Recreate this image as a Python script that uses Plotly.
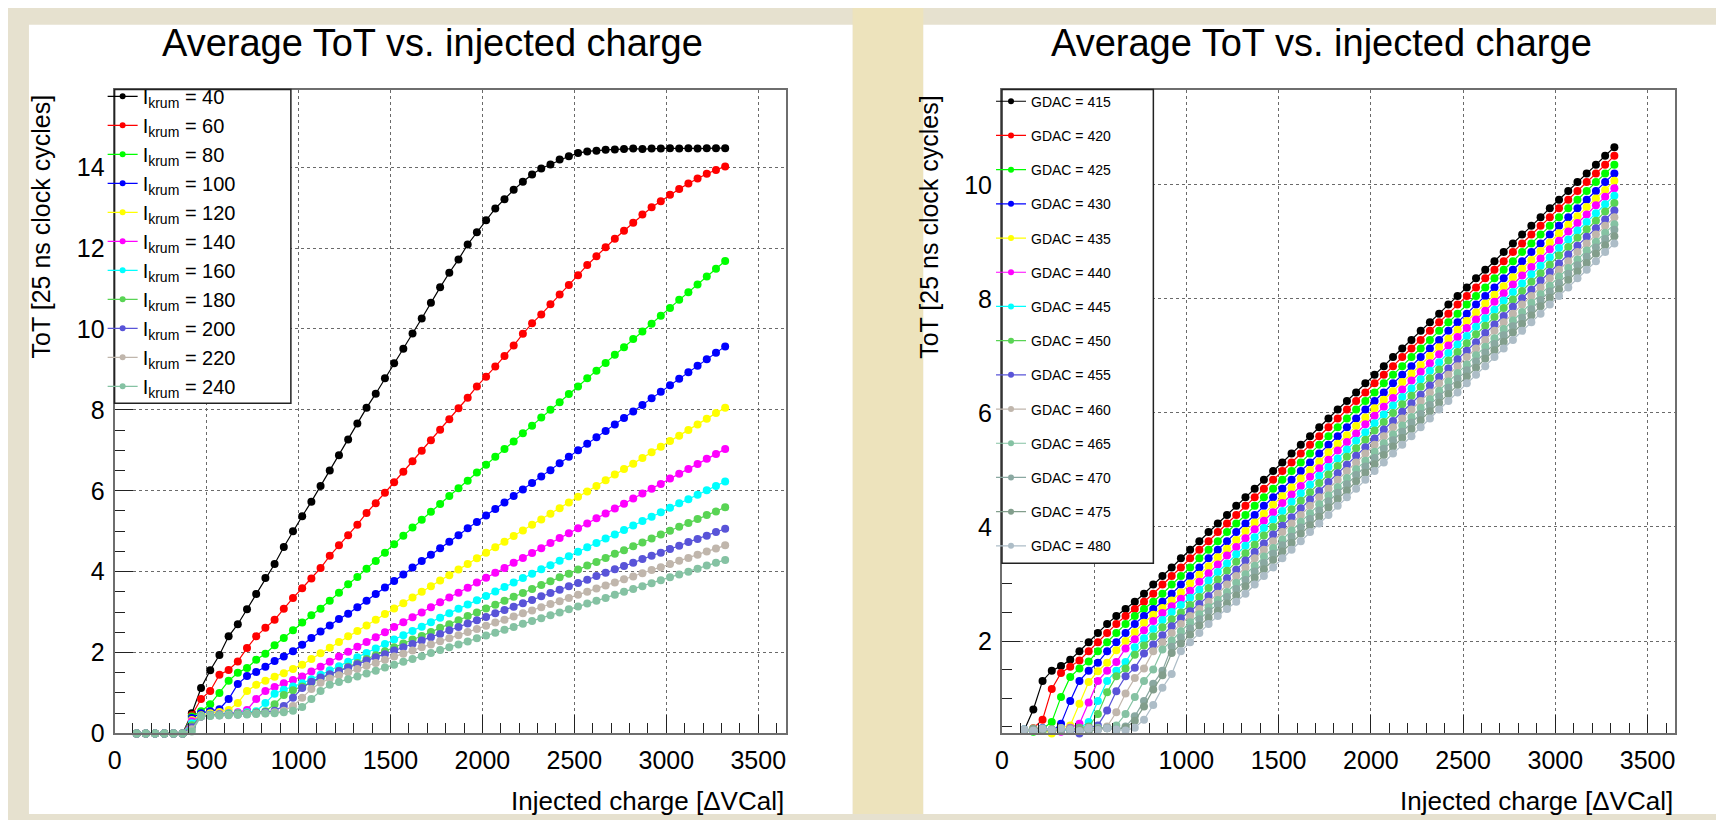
import plotly.graph_objects as go

# ---------------- data ----------------
vcal = [120, 170, 220, 270, 320, 370, 420, 470, 520, 570, 620, 670, 720, 770, 820, 870,
        920, 970, 1020, 1070, 1120, 1170, 1220, 1270, 1320, 1370, 1420, 1470, 1520, 1570,
        1620, 1670, 1720, 1770, 1820, 1870, 1920, 1970, 2020, 2070, 2120, 2170, 2220, 2270,
        2320, 2370, 2420, 2470, 2520, 2570, 2620, 2670, 2720, 2770, 2820, 2870, 2920, 2970,
        3020, 3070, 3120, 3170, 3220, 3270, 3320]

ikrum_values = [40, 60, 80, 100, 120, 140, 160, 180, 200, 220, 240]

tot_ikrum_40 = [0, 0, 0, 0, 0, 0, 0.50, 1.12, 1.56, 1.94, 2.40, 2.70, 3.07, 3.45, 3.84, 4.19, 4.61, 5.00, 5.37, 5.73, 6.12, 6.50, 6.88, 7.27, 7.66, 8.05, 8.40, 8.78, 9.15, 9.51, 9.89, 10.26, 10.65, 11.03, 11.39, 11.72, 12.09, 12.39, 12.69, 12.98, 13.21, 13.44, 13.64, 13.82, 13.97, 14.07, 14.19, 14.27, 14.35, 14.39, 14.41, 14.43, 14.44, 14.45, 14.46, 14.45, 14.46, 14.46, 14.47, 14.46, 14.47, 14.46, 14.47, 14.47, 14.47]
tot_ikrum_60 = [0, 0, 0, 0, 0, 0, 0.45, 0.85, 1.05, 1.45, 1.57, 1.78, 2.11, 2.40, 2.61, 2.81, 3.08, 3.35, 3.59, 3.83, 4.09, 4.39, 4.65, 4.90, 5.16, 5.45, 5.69, 5.95, 6.21, 6.47, 6.73, 6.99, 7.25, 7.51, 7.77, 8.04, 8.30, 8.58, 8.82, 9.07, 9.33, 9.59, 9.88, 10.14, 10.36, 10.61, 10.85, 11.09, 11.33, 11.58, 11.80, 12.02, 12.23, 12.43, 12.63, 12.83, 13.01, 13.16, 13.32, 13.46, 13.60, 13.72, 13.84, 13.93, 14.02]
tot_ikrum_80 = [0, 0, 0, 0, 0, 0, 0.42, 0.55, 0.72, 1.00, 1.30, 1.50, 1.62, 1.82, 1.97, 2.18, 2.36, 2.55, 2.74, 2.92, 3.08, 3.28, 3.48, 3.69, 3.87, 4.07, 4.26, 4.47, 4.68, 4.89, 5.09, 5.28, 5.48, 5.67, 5.87, 6.06, 6.25, 6.45, 6.64, 6.84, 7.03, 7.22, 7.42, 7.61, 7.81, 8.00, 8.19, 8.39, 8.58, 8.78, 8.97, 9.16, 9.36, 9.55, 9.75, 9.94, 10.13, 10.33, 10.52, 10.72, 10.91, 11.10, 11.30, 11.49, 11.68]
tot_ikrum_100 = [0, 0, 0, 0, 0, 0, 0.38, 0.50, 0.55, 0.60, 0.85, 1.22, 1.42, 1.52, 1.65, 1.79, 1.90, 2.03, 2.19, 2.36, 2.52, 2.67, 2.83, 2.96, 3.12, 3.28, 3.45, 3.61, 3.77, 3.93, 4.10, 4.26, 4.42, 4.58, 4.74, 4.90, 5.07, 5.23, 5.39, 5.55, 5.71, 5.87, 6.03, 6.19, 6.35, 6.51, 6.68, 6.84, 7.00, 7.16, 7.32, 7.48, 7.64, 7.80, 7.96, 8.12, 8.29, 8.45, 8.61, 8.77, 8.93, 9.09, 9.25, 9.41, 9.57]
tot_ikrum_120 = [0, 0, 0, 0, 0, 0, 0.33, 0.45, 0.50, 0.53, 0.58, 0.75, 1.05, 1.20, 1.30, 1.40, 1.49, 1.59, 1.70, 1.84, 1.98, 2.12, 2.26, 2.40, 2.53, 2.67, 2.81, 2.95, 3.09, 3.22, 3.36, 3.50, 3.64, 3.78, 3.91, 4.05, 4.19, 4.33, 4.47, 4.60, 4.74, 4.88, 5.02, 5.16, 5.29, 5.43, 5.57, 5.71, 5.85, 5.98, 6.12, 6.26, 6.40, 6.54, 6.67, 6.81, 6.95, 7.09, 7.23, 7.36, 7.50, 7.64, 7.78, 7.92, 8.05]
tot_ikrum_140 = [0, 0, 0, 0, 0, 0, 0.30, 0.42, 0.46, 0.48, 0.50, 0.52, 0.58, 0.85, 1.05, 1.15, 1.24, 1.32, 1.41, 1.53, 1.65, 1.77, 1.90, 2.02, 2.14, 2.26, 2.38, 2.50, 2.63, 2.75, 2.87, 2.99, 3.12, 3.24, 3.36, 3.48, 3.60, 3.73, 3.85, 3.97, 4.09, 4.22, 4.34, 4.46, 4.58, 4.71, 4.83, 4.95, 5.07, 5.19, 5.32, 5.44, 5.56, 5.68, 5.81, 5.93, 6.05, 6.17, 6.30, 6.42, 6.54, 6.66, 6.79, 6.91, 7.03]
tot_ikrum_160 = [0, 0, 0, 0, 0, 0, 0.25, 0.43, 0.46, 0.47, 0.49, 0.50, 0.52, 0.55, 0.75, 0.98, 1.08, 1.16, 1.24, 1.34, 1.45, 1.56, 1.66, 1.77, 1.88, 1.99, 2.10, 2.21, 2.32, 2.43, 2.53, 2.64, 2.75, 2.86, 2.97, 3.08, 3.19, 3.29, 3.40, 3.51, 3.62, 3.73, 3.84, 3.95, 4.06, 4.16, 4.27, 4.38, 4.49, 4.60, 4.71, 4.82, 4.92, 5.03, 5.14, 5.25, 5.36, 5.47, 5.58, 5.69, 5.79, 5.90, 6.01, 6.12, 6.23]
tot_ikrum_180 = [0, 0, 0, 0, 0, 0, 0.20, 0.42, 0.45, 0.46, 0.48, 0.49, 0.50, 0.52, 0.55, 0.72, 0.95, 1.07, 1.16, 1.26, 1.36, 1.45, 1.55, 1.65, 1.74, 1.84, 1.93, 2.03, 2.13, 2.22, 2.32, 2.41, 2.51, 2.61, 2.70, 2.80, 2.90, 2.99, 3.09, 3.18, 3.28, 3.38, 3.47, 3.57, 3.67, 3.76, 3.86, 3.95, 4.05, 4.15, 4.24, 4.34, 4.44, 4.53, 4.63, 4.72, 4.82, 4.92, 5.01, 5.11, 5.20, 5.30, 5.40, 5.49, 5.59]
tot_ikrum_200 = [0, 0, 0, 0, 0, 0, 0.15, 0.42, 0.44, 0.45, 0.46, 0.47, 0.48, 0.50, 0.52, 0.56, 0.68, 0.88, 1.12, 1.28, 1.38, 1.46, 1.54, 1.63, 1.71, 1.80, 1.88, 1.96, 2.05, 2.13, 2.21, 2.30, 2.38, 2.46, 2.55, 2.63, 2.72, 2.80, 2.88, 2.97, 3.05, 3.13, 3.22, 3.30, 3.39, 3.47, 3.55, 3.64, 3.72, 3.80, 3.89, 3.97, 4.06, 4.14, 4.22, 4.31, 4.39, 4.47, 4.56, 4.64, 4.73, 4.81, 4.89, 4.98, 5.06]
tot_ikrum_220 = [0, 0, 0, 0, 0, 0, 0.10, 0.42, 0.44, 0.45, 0.46, 0.47, 0.48, 0.49, 0.50, 0.52, 0.56, 0.68, 0.88, 1.10, 1.25, 1.36, 1.44, 1.51, 1.59, 1.67, 1.74, 1.82, 1.90, 1.97, 2.05, 2.13, 2.20, 2.28, 2.35, 2.43, 2.51, 2.58, 2.66, 2.74, 2.81, 2.89, 2.97, 3.04, 3.12, 3.20, 3.27, 3.35, 3.43, 3.50, 3.58, 3.66, 3.73, 3.81, 3.88, 3.96, 4.04, 4.11, 4.19, 4.27, 4.34, 4.42, 4.50, 4.57, 4.65]
tot_ikrum_240 = [0, 0, 0, 0, 0, 0, 0.05, 0.42, 0.43, 0.44, 0.45, 0.46, 0.47, 0.48, 0.49, 0.50, 0.52, 0.56, 0.65, 0.85, 1.05, 1.20, 1.27, 1.34, 1.41, 1.48, 1.55, 1.63, 1.70, 1.77, 1.84, 1.91, 1.99, 2.06, 2.13, 2.20, 2.27, 2.35, 2.42, 2.49, 2.56, 2.63, 2.71, 2.78, 2.85, 2.92, 2.99, 3.07, 3.14, 3.21, 3.28, 3.35, 3.43, 3.50, 3.57, 3.64, 3.71, 3.79, 3.86, 3.93, 4.00, 4.07, 4.15, 4.22, 4.29]

gdac_values = [415, 420, 425, 430, 435, 440, 445, 450, 455, 460, 465, 470, 475, 480]

tot_gdac_415 = [0.43, 0.80, 1.30, 1.48, 1.56, 1.67, 1.82, 1.98, 2.14, 2.30, 2.44, 2.56, 2.69, 2.83, 2.99, 3.14, 3.29, 3.45, 3.60, 3.75, 3.91, 4.06, 4.21, 4.37, 4.52, 4.67, 4.83, 4.98, 5.13, 5.29, 5.44, 5.59, 5.75, 5.90, 6.06, 6.21, 6.36, 6.52, 6.67, 6.82, 6.98, 7.13, 7.28, 7.44, 7.59, 7.74, 7.90, 8.05, 8.20, 8.36, 8.51, 8.66, 8.82, 8.97, 9.13, 9.28, 9.43, 9.59, 9.74, 9.89, 10.05, 10.20, 10.35, 10.51, 10.66]
tot_gdac_420 = [0.42, 0.47, 0.62, 1.16, 1.44, 1.55, 1.66, 1.82, 1.98, 2.14, 2.30, 2.44, 2.56, 2.69, 2.83, 2.99, 3.14, 3.29, 3.45, 3.60, 3.75, 3.91, 4.06, 4.21, 4.37, 4.52, 4.67, 4.83, 4.98, 5.13, 5.29, 5.44, 5.59, 5.75, 5.90, 6.06, 6.21, 6.36, 6.52, 6.67, 6.82, 6.98, 7.13, 7.28, 7.44, 7.59, 7.74, 7.90, 8.05, 8.20, 8.36, 8.51, 8.66, 8.82, 8.97, 9.13, 9.28, 9.43, 9.59, 9.74, 9.89, 10.05, 10.20, 10.35, 10.51]
tot_gdac_425 = [0.44, 0.41, 0.46, 0.58, 1.02, 1.37, 1.52, 1.64, 1.82, 1.98, 2.14, 2.30, 2.44, 2.56, 2.69, 2.83, 2.99, 3.14, 3.29, 3.45, 3.60, 3.75, 3.91, 4.06, 4.21, 4.37, 4.52, 4.67, 4.83, 4.98, 5.13, 5.29, 5.44, 5.59, 5.75, 5.90, 6.06, 6.21, 6.36, 6.52, 6.67, 6.82, 6.98, 7.13, 7.28, 7.44, 7.59, 7.74, 7.90, 8.05, 8.20, 8.36, 8.51, 8.66, 8.82, 8.97, 9.13, 9.28, 9.43, 9.59, 9.74, 9.89, 10.05, 10.20, 10.35]
tot_gdac_430 = [0.45, 0.43, 0.47, 0.42, 0.55, 0.95, 1.30, 1.48, 1.62, 1.82, 1.98, 2.14, 2.30, 2.44, 2.56, 2.69, 2.83, 2.99, 3.14, 3.29, 3.45, 3.60, 3.75, 3.91, 4.06, 4.21, 4.37, 4.52, 4.67, 4.83, 4.98, 5.13, 5.29, 5.44, 5.59, 5.75, 5.90, 6.06, 6.21, 6.36, 6.52, 6.67, 6.82, 6.98, 7.13, 7.28, 7.44, 7.59, 7.74, 7.90, 8.05, 8.20, 8.36, 8.51, 8.66, 8.82, 8.97, 9.13, 9.28, 9.43, 9.59, 9.74, 9.89, 10.05, 10.20]
tot_gdac_435 = [0.43, 0.46, 0.44, 0.38, 0.47, 0.52, 0.90, 1.28, 1.47, 1.62, 1.84, 2.00, 2.16, 2.32, 2.46, 2.58, 2.71, 2.85, 3.01, 3.16, 3.31, 3.47, 3.62, 3.77, 3.93, 4.08, 4.23, 4.39, 4.54, 4.69, 4.85, 5.00, 5.15, 5.31, 5.46, 5.61, 5.77, 5.92, 6.08, 6.23, 6.38, 6.54, 6.69, 6.84, 7.00, 7.15, 7.30, 7.46, 7.61, 7.76, 7.92, 8.07, 8.22, 8.38, 8.53, 8.68, 8.84, 8.99, 9.15, 9.30, 9.45, 9.61, 9.76, 9.91, 10.07]
tot_gdac_440 = [0.44, 0.42, 0.46, 0.45, 0.41, 0.48, 0.55, 0.92, 1.30, 1.48, 1.63, 1.87, 2.03, 2.19, 2.35, 2.49, 2.61, 2.74, 2.88, 3.04, 3.19, 3.34, 3.50, 3.65, 3.80, 3.96, 4.11, 4.26, 4.42, 4.57, 4.72, 4.88, 5.03, 5.18, 5.34, 5.49, 5.64, 5.80, 5.95, 6.11, 6.26, 6.41, 6.57, 6.72, 6.87, 7.03, 7.18, 7.33, 7.49, 7.64, 7.79, 7.95, 8.10, 8.25, 8.41, 8.56, 8.71, 8.87, 9.02, 9.18, 9.33, 9.48, 9.64, 9.79, 9.94]
tot_gdac_445 = [0.45, 0.43, 0.47, 0.44, 0.46, 0.42, 0.47, 0.58, 0.95, 1.30, 1.48, 1.63, 1.89, 2.05, 2.21, 2.37, 2.51, 2.63, 2.76, 2.90, 3.06, 3.21, 3.36, 3.52, 3.67, 3.82, 3.98, 4.13, 4.28, 4.44, 4.59, 4.74, 4.90, 5.05, 5.20, 5.36, 5.51, 5.66, 5.82, 5.97, 6.13, 6.28, 6.43, 6.59, 6.74, 6.89, 7.05, 7.20, 7.35, 7.51, 7.66, 7.81, 7.97, 8.12, 8.27, 8.43, 8.58, 8.73, 8.89, 9.04, 9.20, 9.35, 9.50, 9.66, 9.81]
tot_gdac_450 = [0.44, 0.46, 0.42, 0.45, 0.47, 0.43, 0.48, 0.50, 0.72, 1.10, 1.38, 1.52, 1.76, 1.92, 2.08, 2.24, 2.38, 2.50, 2.63, 2.77, 2.93, 3.08, 3.23, 3.39, 3.54, 3.69, 3.85, 4.00, 4.15, 4.31, 4.46, 4.61, 4.77, 4.92, 5.07, 5.23, 5.38, 5.53, 5.69, 5.84, 6.00, 6.15, 6.30, 6.46, 6.61, 6.76, 6.92, 7.07, 7.22, 7.38, 7.53, 7.68, 7.84, 7.99, 8.14, 8.30, 8.45, 8.60, 8.76, 8.91, 9.07, 9.22, 9.37, 9.53, 9.68]
tot_gdac_455 = [0.43, 0.45, 0.47, 0.42, 0.46, 0.44, 0.38, 0.48, 0.52, 0.78, 1.12, 1.38, 1.53, 1.78, 1.94, 2.10, 2.26, 2.40, 2.52, 2.65, 2.79, 2.95, 3.10, 3.25, 3.41, 3.56, 3.71, 3.87, 4.02, 4.17, 4.33, 4.48, 4.63, 4.79, 4.94, 5.09, 5.25, 5.40, 5.55, 5.71, 5.86, 6.02, 6.17, 6.32, 6.48, 6.63, 6.78, 6.94, 7.09, 7.24, 7.40, 7.55, 7.70, 7.86, 8.01, 8.16, 8.32, 8.47, 8.62, 8.78, 8.93, 9.09, 9.24, 9.39, 9.55]
tot_gdac_460 = [0.45, 0.43, 0.46, 0.44, 0.47, 0.42, 0.45, 0.48, 0.46, 0.50, 0.75, 1.08, 1.35, 1.52, 1.82, 1.98, 2.14, 2.30, 2.44, 2.56, 2.69, 2.83, 2.99, 3.14, 3.29, 3.45, 3.60, 3.75, 3.91, 4.06, 4.21, 4.37, 4.52, 4.67, 4.83, 4.98, 5.13, 5.29, 5.44, 5.59, 5.75, 5.90, 6.06, 6.21, 6.36, 6.52, 6.67, 6.82, 6.98, 7.13, 7.28, 7.44, 7.59, 7.74, 7.90, 8.05, 8.20, 8.36, 8.51, 8.66, 8.82, 8.97, 9.13, 9.28, 9.43]
tot_gdac_465 = [0.44, 0.46, 0.43, 0.45, 0.47, 0.44, 0.42, 0.46, 0.48, 0.47, 0.52, 0.72, 1.02, 1.30, 1.50, 1.85, 2.01, 2.17, 2.33, 2.47, 2.59, 2.72, 2.86, 3.02, 3.17, 3.32, 3.48, 3.63, 3.78, 3.94, 4.09, 4.24, 4.40, 4.55, 4.70, 4.86, 5.01, 5.16, 5.32, 5.47, 5.62, 5.78, 5.93, 6.09, 6.24, 6.39, 6.55, 6.70, 6.85, 7.01, 7.16, 7.31, 7.47, 7.62, 7.77, 7.93, 8.08, 8.23, 8.39, 8.54, 8.69, 8.85, 9.00, 9.16, 9.31]
tot_gdac_470 = [0.45, 0.43, 0.46, 0.44, 0.42, 0.47, 0.45, 0.43, 0.46, 0.48, 0.45, 0.50, 0.68, 0.95, 1.25, 1.48, 1.90, 2.06, 2.22, 2.38, 2.52, 2.64, 2.77, 2.91, 3.07, 3.22, 3.37, 3.53, 3.68, 3.83, 3.99, 4.14, 4.29, 4.45, 4.60, 4.75, 4.91, 5.06, 5.21, 5.37, 5.52, 5.67, 5.83, 5.98, 6.14, 6.29, 6.44, 6.60, 6.75, 6.90, 7.06, 7.21, 7.36, 7.52, 7.67, 7.82, 7.98, 8.13, 8.28, 8.44, 8.59, 8.74, 8.90, 9.05, 9.21]
tot_gdac_475 = [0.44, 0.46, 0.45, 0.43, 0.47, 0.44, 0.46, 0.42, 0.45, 0.47, 0.44, 0.48, 0.60, 0.85, 1.15, 1.40, 1.79, 1.95, 2.11, 2.27, 2.41, 2.53, 2.66, 2.80, 2.96, 3.11, 3.26, 3.42, 3.57, 3.72, 3.88, 4.03, 4.18, 4.34, 4.49, 4.64, 4.80, 4.95, 5.10, 5.26, 5.41, 5.56, 5.72, 5.87, 6.03, 6.18, 6.33, 6.49, 6.64, 6.79, 6.95, 7.10, 7.25, 7.41, 7.56, 7.71, 7.87, 8.02, 8.17, 8.33, 8.48, 8.63, 8.79, 8.94, 9.10]
tot_gdac_480 = [0.45, 0.43, 0.46, 0.44, 0.47, 0.45, 0.42, 0.46, 0.44, 0.47, 0.45, 0.43, 0.48, 0.62, 0.88, 1.18, 1.42, 1.82, 1.98, 2.14, 2.30, 2.44, 2.56, 2.69, 2.83, 2.99, 3.14, 3.29, 3.45, 3.60, 3.75, 3.91, 4.06, 4.21, 4.37, 4.52, 4.67, 4.83, 4.98, 5.13, 5.29, 5.44, 5.59, 5.75, 5.90, 6.06, 6.21, 6.36, 6.52, 6.67, 6.82, 6.98, 7.13, 7.28, 7.44, 7.59, 7.74, 7.90, 8.05, 8.20, 8.36, 8.51, 8.66, 8.82, 8.97]

x_ticks = [0, 500, 1000, 1500, 2000, 2500, 3000, 3500]

# ---------------- styles ----------------
W, H = 1724, 820
FONT = "Liberation Sans, Arial, Helvetica, sans-serif"
left_colors = ["#000000", "#ff0000", "#00ff00", "#0000ff", "#ffff00", "#ff00ff",
               "#00ffff", "#59d454", "#5954d8", "#c0b6ac", "#85c2a3"]
right_colors = ["#000000", "#ff0000", "#00ff00", "#0000ff", "#ffff00", "#ff00ff",
                "#00ffff", "#59d454", "#5954d8", "#c0b6ac", "#85c2a3", "#8aa8a1",
                "#829e8c", "#adbdc7"]

left_data = [tot_ikrum_40, tot_ikrum_60, tot_ikrum_80, tot_ikrum_100, tot_ikrum_120,
             tot_ikrum_140, tot_ikrum_160, tot_ikrum_180, tot_ikrum_200, tot_ikrum_220,
             tot_ikrum_240]
right_data = [tot_gdac_415, tot_gdac_420, tot_gdac_425, tot_gdac_430, tot_gdac_435,
              tot_gdac_440, tot_gdac_445, tot_gdac_450, tot_gdac_455, tot_gdac_460,
              tot_gdac_465, tot_gdac_470, tot_gdac_475, tot_gdac_480]


def px(x):
    return x / W


def py(y):
    return 1 - y / H


fig = go.Figure()

for val, ys, col in zip(ikrum_values, left_data, left_colors):
    fig.add_trace(go.Scatter(x=vcal, y=ys, mode="lines+markers", xaxis="x", yaxis="y",
                             line=dict(color=col, width=1.2),
                             marker=dict(color=col, size=8, line=dict(width=0)),
                             cliponaxis=False, showlegend=False, hoverinfo="skip"))
    fig.add_trace(go.Scatter(x=[None], y=[None], mode="lines+markers", xaxis="x", yaxis="y",
                             name="I<sub>krum</sub> = %d" % val, legend="legend",
                             line=dict(color=col, width=1.2),
                             marker=dict(color=col, size=6, line=dict(width=0))))

for val, ys, col in zip(gdac_values, right_data, right_colors):
    fig.add_trace(go.Scatter(x=vcal, y=ys, mode="lines+markers", xaxis="x2", yaxis="y2",
                             line=dict(color=col, width=1.2),
                             marker=dict(color=col, size=8, line=dict(width=0)),
                             cliponaxis=False, showlegend=False, hoverinfo="skip"))
    fig.add_trace(go.Scatter(x=[None], y=[None], mode="lines+markers", xaxis="x2", yaxis="y2",
                             name="GDAC = %d" % val, legend="legend2",
                             legendgroup="G%d" % val,
                             line=dict(color=col, width=1.2),
                             marker=dict(color=col, size=6, line=dict(width=0))))


def xaxis_cfg(dom):
    return dict(domain=dom, range=[0, 3650], tickmode="array", tickvals=x_ticks,
                ticktext=[str(v) for v in x_ticks],
                ticks="inside", ticklen=18, tickwidth=1, tickcolor="#222",
                minor=dict(tickmode="linear", tick0=0, dtick=100, ticks="inside",
                           ticklen=10, tickwidth=1, tickcolor="#222", showgrid=False),
                showgrid=True, gridcolor="#6a6a6a", griddash="dot", gridwidth=1,
                showline=True, linecolor="#6e6e6e", linewidth=2, mirror=True,
                zeroline=False, ticklabelstandoff=4,
                tickfont=dict(family=FONT, size=25, color="black"), fixedrange=True)


def yaxis_cfg(dom, rng, anchor):
    return dict(domain=dom, range=rng, tickmode="linear", tick0=0, dtick=2,
                ticks="inside", ticklen=18, tickwidth=1, tickcolor="#222",
                minor=dict(tickmode="linear", tick0=0, dtick=0.5, ticks="inside",
                           ticklen=10, tickwidth=1, tickcolor="#222", showgrid=False),
                showgrid=True, gridcolor="#6a6a6a", griddash="dot", gridwidth=1,
                showline=True, linecolor="#6e6e6e", linewidth=2, mirror=True,
                zeroline=False, ticklabelstandoff=3, anchor=anchor,
                tickfont=dict(family=FONT, size=25, color="black"), fixedrange=True)


ydom = [py(738), py(83)]
fig.update_layout(
    width=W, height=H, autosize=False,
    margin=dict(l=0, r=0, t=0, b=0, pad=0),
    paper_bgcolor="#e6e1cf", plot_bgcolor="white",
    font=dict(family=FONT, color="black"),
    xaxis=dict(xaxis_cfg([px(100), px(774)]), anchor="y"),
    yaxis=yaxis_cfg(ydom, [0, 15.92], "x"),
    xaxis2=dict(xaxis_cfg([px(991), px(1667)]), anchor="y2"),
    yaxis2=yaxis_cfg(ydom, [0.38, 11.67], "x2"),
    legend=dict(x=px(88), y=py(70), xanchor="left", yanchor="top",
                bgcolor="rgba(0,0,0,0)", borderwidth=0, tracegroupgap=0,
                font=dict(family=FONT, size=20, color="black"), itemclick=False),
    legend2=dict(x=px(980), y=py(79), xanchor="left", yanchor="top",
                 bgcolor="rgba(0,0,0,0)", borderwidth=0, tracegroupgap=13,
                 font=dict(family=FONT, size=14, color="black"), itemclick=False),
)

shapes = [
    dict(type="rect", xref="paper", yref="paper", x0=px(841), x1=px(912), y0=0, y1=1,
         fillcolor="#ede3bc", line=dict(width=0), layer="below"),
    dict(type="rect", xref="paper", yref="paper", x0=px(14), x1=px(841), y0=0, y1=py(17),
         fillcolor="white", line=dict(width=0), layer="below"),
    dict(type="rect", xref="paper", yref="paper", x0=px(912), x1=px(1716), y0=0, y1=py(17),
         fillcolor="white", line=dict(width=0), layer="below"),
    dict(type="rect", xref="paper", yref="paper", x0=px(100), x1=px(277), y0=py(402), y1=py(83),
         fillcolor="white", line=dict(color="#222", width=1.5), layer="above"),
    dict(type="rect", xref="paper", yref="paper", x0=px(991), x1=px(1143), y0=py(565), y1=py(83),
         fillcolor="white", line=dict(color="#222", width=1.5), layer="above"),
]
fig.update_layout(shapes=shapes)

title_txt = "Average ToT vs. injected charge"
ytitle = "ToT [25 ns clock cycles]"
xtitle = "Injected charge [\u0394VCal]"
ann = [
    dict(text=title_txt, x=px(419), y=py(36), xanchor="center", yanchor="middle",
         font=dict(family=FONT, size=38, color="black")),
    dict(text=title_txt, x=px(1312), y=py(36), xanchor="center", yanchor="middle",
         font=dict(family=FONT, size=38, color="black")),
    dict(text=ytitle, textangle=-90, x=px(26), y=py(86), xanchor="center", yanchor="top",
         font=dict(family=FONT, size=25, color="black")),
    dict(text=ytitle, textangle=-90, x=px(917), y=py(86), xanchor="center", yanchor="top",
         font=dict(family=FONT, size=25, color="black")),
    dict(text=xtitle, x=px(774), y=py(807), xanchor="right", yanchor="middle",
         font=dict(family=FONT, size=26, color="black")),
    dict(text=xtitle, x=px(1667), y=py(807), xanchor="right", yanchor="middle",
         font=dict(family=FONT, size=26, color="black")),
]
for a in ann:
    a.update(xref="paper", yref="paper", showarrow=False)
fig.update_layout(annotations=ann)

fig.write_html("out.html")
